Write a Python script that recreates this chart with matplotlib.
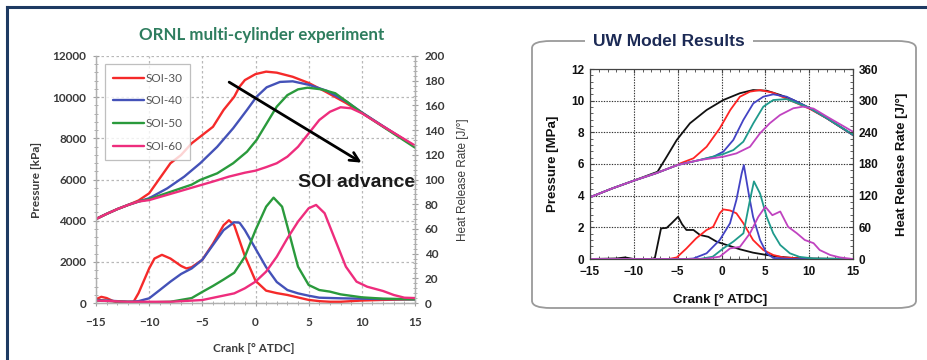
import matplotlib
matplotlib.use("Agg")
import matplotlib.pyplot as plt
from matplotlib.patches import FancyBboxPatch
from matplotlib.lines import Line2D
from matplotlib.ticker import MultipleLocator

# ---------------- ORNL multi-cylinder experiment ----------------
ornl_labels = ["SOI-30", "SOI-40", "SOI-50", "SOI-60"]
ornl_colors = ["#f52a2a", "#4452b8", "#2a9a3c", "#ee2d7d"]

# cylinder pressure [kPa]
p30_x = [-15, -14, -13, -12, -11, -10, -9, -8, -7, -6, -5, -4, -3, -2, -1.5, -1, 0, 1, 2, 3.5, 5, 6.5, 8.5, 10, 12, 15]
p30_y = [4080, 4330, 4560, 4760, 4980, 5330, 6060, 6790, 7190, 7760, 8160, 8560, 9380, 10020, 10510, 10830, 11120,
         11240, 11190, 10990, 10690, 10290, 9720, 9240, 8580, 7600]
p40_x = [-15, -14, -13, -12, -11, -10, -8.3, -6.7, -5.2, -3.6, -2.1, -0.8, 0.1, 1.05, 2.3, 3.5, 5.1, 6.7, 8.6, 10, 12, 15]
p40_y = [4080, 4330, 4560, 4760, 4930, 5090, 5570, 6140, 6790, 7590, 8490, 9380, 10020, 10480, 10740, 10770, 10590,
         10310, 9770, 9260, 8590, 7600]
p50_x = [-15, -14, -13, -12, -11, -10, -8, -6, -5.2, -3.6, -2.1, -0.8, 0.1, 1.05, 2.0, 3.0, 4.0, 4.9, 6.2, 7.5, 8.6,
         10, 12, 15]
p50_y = [4080, 4330, 4560, 4760, 4930, 5050, 5400, 5750, 5980, 6300, 6790, 7350, 7920, 8730, 9540, 10100, 10380,
         10460, 10380, 10190, 9780, 9240, 8560, 7550]
p60_x = [-15, -14, -13, -12, -11, -10, -8, -6, -4, -2.5, -1, 0, 1, 2, 3, 4, 5, 6, 7, 8, 9, 10, 12, 15]
p60_y = [4080, 4330, 4560, 4760, 4930, 5000, 5300, 5600, 5900, 6140, 6330, 6430, 6600, 6790, 7110, 7590, 8240, 8890,
         9290, 9510, 9460, 9220, 8580, 7650]

# heat release rate [J/deg]
h30_x = [-15, -14.5, -14, -13.5, -13, -12, -11.5, -11, -10, -9.5, -8.8, -8, -7, -6.5, -6, -5, -4, -3, -2.5, -2, -1, 0,
         1, 2, 3, 4, 5, 6, 7, 8, 10, 12, 15]
h30_y = [3, 5, 4, 2, 0.5, 0, 0.5, 8, 28, 36, 39, 36, 30, 28, 29, 35, 48, 63, 67, 63, 38, 18, 10, 8, 6.5, 4.5, 2.5,
         1.5, 1, 1, 2, 2.5, 3]
h40_x = [-15, -14, -13, -12, -11, -10, -9, -8, -7, -6, -5, -4, -3, -2, -1.5, -1, 0, 1, 2, 3, 4, 5, 6, 8, 10, 12, 15]
h40_y = [2.5, 2, 1.5, 1, 1.5, 3.8, 10.5, 17.3, 23.5, 28, 35, 47, 59, 65.4, 65, 59, 44, 29, 17, 10.5, 7.8, 5.9, 4.3,
         3.8, 3.5, 3.2, 3]
h50_x = [-15, -12, -10, -8, -6, -5, -4, -3, -2, -1, 0, 1, 1.7, 2.5, 3, 4, 5, 6, 7, 8, 10, 12, 15]
h50_y = [2, 1, 0.5, 1, 4, 9, 13.8, 19, 24.5, 37.5, 59, 78, 85.3, 78, 62, 29.4, 14.6, 10.5, 9.2, 7, 4.6, 3.5, 3]
h60_x = [-15, -12, -10, -8, -5, -3, -2, -1, 0, 1, 2, 3, 4, 5, 5.7, 6.5, 7.5, 8.5, 9.5, 10.5, 12, 13, 14, 15]
h60_y = [2, 1, 1, 1, 2.4, 6, 7.8, 11.9, 17.3, 25.4, 37.5, 52.4, 65.9, 76.7, 79.4, 72.7, 51, 29.4, 17.3, 13.2, 9.7,
         6.5, 4.3, 4]

ornl_p = [(p30_x, p30_y), (p40_x, p40_y), (p50_x, p50_y), (p60_x, p60_y)]
ornl_h = [(h30_x, h30_y), (h40_x, h40_y), (h50_x, h50_y), (h60_x, h60_y)]

# ---------------- UW model results ----------------
uw_colors = ["#111111", "#ff2424", "#4343c4", "#1f9a8c", "#c043c0"]

# pressure [MPa]
ub_x = [-15, -12.5, -10, -7.3, -6.25, -5.1, -3.6, -1.7, 0.2, 2.1, 3.6, 5.15, 6.7, 8.2, 10.1, 12, 15]
ub_y = [3.9, 4.45, 4.95, 5.51, 6.46, 7.52, 8.57, 9.41, 10.04, 10.47, 10.67, 10.63, 10.36, 10.04, 9.52, 8.89, 7.83]
ur_x = [-15, -12.5, -10, -7.5, -5, -4.7, -3.2, -1.7, -0.2, 1.0, 2.1, 3.25, 4.4, 5.9, 7.5, 10, 12, 15]
ur_y = [3.9, 4.45, 4.95, 5.41, 5.94, 6.04, 6.36, 7.09, 8.25, 9.41, 10.25, 10.57, 10.67, 10.5, 10.1, 9.5, 8.89, 7.83]
ubl_x = [-15, -12.5, -10, -7.5, -5, -2.5, -0.93, 0.21, 1.35, 2.49, 3.63, 4.77, 5.9, 7.43, 10, 12, 15]
ubl_y = [3.9, 4.45, 4.95, 5.41, 5.94, 6.25, 6.46, 6.78, 7.52, 8.78, 9.83, 10.25, 10.4, 10.25, 9.55, 8.9, 7.83]
ut_x = [-15, -12.5, -10, -7.5, -5, -2.5, 0.21, 1.35, 2.49, 3.63, 4.77, 5.9, 7.43, 10, 12, 15]
ut_y = [3.9, 4.45, 4.95, 5.41, 5.94, 6.25, 6.63, 6.88, 7.41, 8.57, 9.62, 10.04, 10.1, 9.55, 8.9, 7.85]
um_x = [-15, -12.5, -10, -7.5, -5, -2.5, 0.21, 1.7, 3.25, 4.39, 5.5, 6.67, 8.19, 9.3, 10.5, 12, 15]
um_y = [3.9, 4.45, 4.95, 5.41, 5.94, 6.25, 6.46, 6.67, 7.09, 7.94, 8.57, 9.09, 9.52, 9.62, 9.5, 9.0, 8.04]

# heat release rate [J/deg]
hb_x = [-15, -12, -11, -10, -8, -7.6, -6.9, -6.25, -5.7, -4.95, -4.5, -4.0, -3.2, -2.45, -1.5, -0.55, 0.6, 2.1, 3.6,
        5.15, 6.7, 8.2, 10, 15]
hb_y = [0, 1, 3, 0, 0, 2, 58, 59, 67.6, 80, 66, 55, 55, 45.5, 42, 32.8, 26.5, 18.4, 12, 7.6, 4, 2, 1, 0]
hr_x = [-15, -6, -5.1, -4.0, -2.9, -1.7, -0.95, -0.2, 0.2, 0.97, 1.7, 2.5, 3.6, 4.77, 5.9, 7.05, 10, 15]
hr_y = [0, 0, 3, 20, 39, 55, 61, 86.6, 94, 92, 86.6, 67.6, 36, 17, 7.6, 3, 0, 0]
hbl_x = [-15, -4, -3.2, -1.7, -0.2, 0.97, 1.7, 2.3, 2.55, 3.1, 3.6, 4.4, 5.15, 5.9, 8, 15]
hbl_y = [0, 0, 1, 10.8, 36, 67.6, 112, 162, 178, 124, 80, 36, 10.8, 2, 0, 0]
ht_x = [-15, -2.5, -1, 0.2, 1.35, 2.5, 3.25, 3.7, 4.4, 5.15, 5.9, 6.7, 7.8, 8.9, 10.5, 15]
ht_y = [0, 0, 4.4, 20, 33, 48.7, 112, 147, 124, 80, 48.7, 26.5, 10.8, 4, 1, 0]
hm_x = [-15, -2, -0.2, 0.97, 2.1, 3.25, 4.2, 5.0, 5.8, 6.7, 7.6, 8.6, 9.5, 10.5, 11.2, 12.4, 13.5, 15]
hm_y = [0, 0, 4.4, 20, 23, 48.7, 80, 99, 83, 90, 61, 48.7, 36, 30, 17, 7.6, 3, 0]

uw_p = [(ub_x, ub_y), (ur_x, ur_y), (ubl_x, ubl_y), (ut_x, ut_y), (um_x, um_y)]
uw_h = [(hb_x, hb_y), (hr_x, hr_y), (hbl_x, hbl_y), (ht_x, ht_y), (hm_x, hm_y)]

W, H = 927, 360
fig = plt.figure(figsize=(W / 100, H / 100), dpi=100)
fig.patch.set_facecolor("white")


def fx(px):
    return px / W


def fy(py):
    return 1 - py / H


# navy frame along the top and left edge
navy = "#1e3a62"
fig.add_artist(Line2D([fx(7), fx(7)], [fy(7), 0], color=navy, lw=2.2, transform=fig.transFigure))
fig.add_artist(Line2D([fx(7), 1], [fy(7), fy(7)], color=navy, lw=2.2, transform=fig.transFigure))

# ---------- left panel ----------
lfont = "Lato"
lgray = "#3a3a3a"
axL = fig.add_axes([fx(96), fy(303), fx(415) - fx(96), fy(56) - fy(303)])
axL2 = axL.twinx()
for (x, y), c, lab in zip(ornl_p, ornl_colors, ornl_labels):
    axL.plot(x, y, color=c, lw=1.7, label=lab, solid_capstyle="round")
for (x, y), c in zip(ornl_h, ornl_colors):
    axL2.plot(x, y, color=c, lw=1.7, solid_capstyle="round")

axL.set_xlim(-15, 15)
axL.set_ylim(0, 12000)
axL2.set_ylim(0, 200)
axL.xaxis.set_major_locator(MultipleLocator(5))
axL.xaxis.set_minor_locator(MultipleLocator(1))
axL.yaxis.set_major_locator(MultipleLocator(2000))
axL.yaxis.set_minor_locator(MultipleLocator(400))
axL2.yaxis.set_major_locator(MultipleLocator(20))
axL2.yaxis.set_minor_locator(MultipleLocator(4))
axL.grid(True, which="major", color="#b8b8b8", ls=(0, (2, 2)), lw=0.9)
axL.set_axisbelow(True)
for a in (axL, axL2):
    a.spines["top"].set_visible(False)
    for s in ("left", "right", "bottom"):
        a.spines[s].set_color("#b0b0b0")
        a.spines[s].set_linewidth(0.9)
    a.tick_params(which="both", color="#a0a0a0", labelcolor=lgray, labelsize=8.5)
    a.tick_params(which="major", length=4, direction="inout")
    a.tick_params(which="minor", length=2.5, direction="inout")
axL.tick_params(axis="x", pad=8)
axL.tick_params(axis="y", pad=5)
axL2.tick_params(axis="y", pad=5)
for t in axL.get_xticklabels() + axL.get_yticklabels() + axL2.get_yticklabels():
    t.set_fontfamily(lfont)
    t.set_fontweight("bold")

leg = axL.legend(loc="upper left", bbox_to_anchor=(0.01, 0.99), frameon=True, fancybox=False,
                 handlelength=2.6, handletextpad=0.1, labelspacing=1.0, borderpad=0.7,
                 prop={"family": lfont, "size": 8.5})
leg.get_frame().set_edgecolor("#b0b0b0")
leg.get_frame().set_linewidth(0.9)
for t in leg.get_texts():
    t.set_color("#555555")

axL.annotate("", xy=(10.2, 6750), xytext=(-2.7, 10800),
             arrowprops=dict(arrowstyle="->", color="black", lw=2, mutation_scale=16))
axL.text(4.0, 5830, "SOI advance", fontsize=14, fontweight="bold", family="Liberation Sans",
         color="#1a1a1a", va="center", ha="left", clip_on=False, zorder=5)

fig.text(fx(262), fy(35), "ORNL multi-cylinder experiment", ha="center", va="center",
         fontsize=12.2, fontweight="bold", family=lfont, color="#2e7d5e")
fig.text(fx(36), fy(180), "Pressure [kPa]", rotation=90, ha="center", va="center",
         fontsize=8.5, family=lfont, fontweight="bold", color=lgray)
fig.text(fx(254), fy(348), "Crank [\u00b0 ATDC]", ha="center", va="center",
         fontsize=8.5, family=lfont, fontweight="bold", color=lgray)
fig.text(fx(463), fy(180), "Heat Release Rate [J/\u00b0]", rotation=90, ha="center", va="center",
         fontsize=8.5, family="Liberation Sans", color=lgray)

# ---------- right panel ----------
box = FancyBboxPatch((fx(532), fy(308)), fx(916) - fx(532), fy(41) - fy(308),
                     boxstyle="round,pad=0,rounding_size=0.02", transform=fig.transFigure,
                     facecolor="none", edgecolor="#9a9a9a", lw=1.3)
fig.add_artist(box)
fig.text(fx(669), fy(41), "UW Model Results", ha="center", va="center", fontsize=12.5,
         fontweight="bold", family="Liberation Sans", color="#1c2a55",
         bbox=dict(facecolor="white", edgecolor="none", pad=6))

rfont = "Liberation Sans"
axR = fig.add_axes([fx(590), fy(259), fx(853) - fx(590), fy(69) - fy(259)])
axR2 = axR.twinx()
for (x, y), c in zip(uw_p, uw_colors):
    axR.plot(x, y, color=c, lw=1.3)
for (x, y), c in zip(uw_h, uw_colors):
    axR2.plot(x, y, color=c, lw=1.3)

axR.set_xlim(-15, 15)
axR.set_ylim(0, 12)
axR2.set_ylim(0, 360)
axR.xaxis.set_major_locator(MultipleLocator(5))
axR.xaxis.set_minor_locator(MultipleLocator(1))
axR.yaxis.set_major_locator(MultipleLocator(2))
axR.yaxis.set_minor_locator(MultipleLocator(0.4))
axR2.yaxis.set_major_locator(MultipleLocator(60))
axR2.yaxis.set_minor_locator(MultipleLocator(12))
axR.grid(True, which="major", color="#333333", ls=(0, (1.2, 1.2)), lw=0.8)
axR.set_axisbelow(True)
for a in (axR, axR2):
    for s in a.spines.values():
        s.set_color("#444444")
        s.set_linewidth(0.8)
    a.tick_params(which="both", direction="in", color="#444444", labelsize=8.5, labelcolor="#111111")
    a.tick_params(which="major", length=3)
    a.tick_params(which="minor", length=2)
axR.tick_params(which="both", top=True)
axR.tick_params(axis="x", pad=5)
axR.tick_params(axis="y", pad=4)
axR2.tick_params(axis="y", pad=4)
for t in axR.get_xticklabels() + axR.get_yticklabels() + axR2.get_yticklabels():
    t.set_fontfamily(rfont)
    t.set_fontweight("bold")

fig.text(fx(553), fy(164), "Pressure [MPa]", rotation=90, ha="center", va="center",
         fontsize=9.5, fontweight="bold", family=rfont, color="#111111")
fig.text(fx(902), fy(164), "Heat Release Rate [J/\u00b0]", rotation=90, ha="center", va="center",
         fontsize=9.5, fontweight="bold", family=rfont, color="#111111")
fig.text(fx(720), fy(300), "Crank [\u00b0 ATDC]", ha="center", va="center",
         fontsize=9.5, fontweight="bold", family=rfont, color="#111111")

fig.savefig("out.png", dpi=100, facecolor="white")
